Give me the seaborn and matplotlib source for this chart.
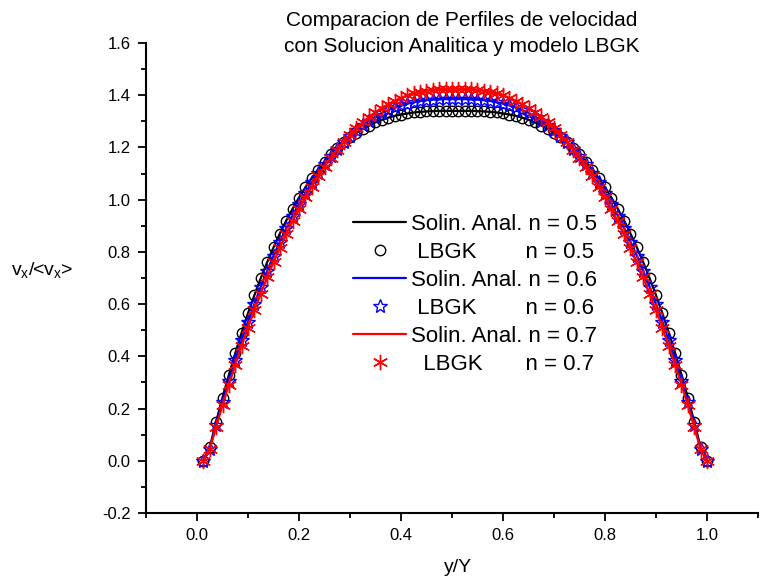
import matplotlib
matplotlib.use("Agg")
import matplotlib.pyplot as plt
import seaborn as sns
from matplotlib.ticker import MultipleLocator

# ---------------- data ----------------
y_pos = [0.0125, 0.025, 0.0375, 0.05, 0.0625, 0.075, 0.0875, 0.1, 0.1125, 0.125,
         0.1375, 0.15, 0.1625, 0.175, 0.1875, 0.2, 0.2125, 0.225, 0.2375, 0.25,
         0.2625, 0.275, 0.2875, 0.3, 0.3125, 0.325, 0.3375, 0.35, 0.3625, 0.375,
         0.3875, 0.4, 0.4125, 0.425, 0.4375, 0.45, 0.4625, 0.475, 0.4875, 0.5,
         0.5125, 0.525, 0.5375, 0.55, 0.5625, 0.575, 0.5875, 0.6, 0.6125, 0.625,
         0.6375, 0.65, 0.6625, 0.675, 0.6875, 0.7, 0.7125, 0.725, 0.7375, 0.75,
         0.7625, 0.775, 0.7875, 0.8, 0.8125, 0.825, 0.8375, 0.85, 0.8625, 0.875,
         0.8875, 0.9, 0.9125, 0.925, 0.9375, 0.95, 0.9625, 0.975, 0.9875, 1.0]

v_n05 = [0.0, 0.051, 0.149, 0.242, 0.329, 0.412, 0.491, 0.565, 0.634, 0.699,
         0.760, 0.817, 0.870, 0.920, 0.965, 1.008, 1.047, 1.083, 1.115, 1.145,
         1.173, 1.197, 1.219, 1.239, 1.256, 1.271, 1.284, 1.296, 1.306, 1.314,
         1.321, 1.326, 1.330, 1.334, 1.336, 1.338, 1.339, 1.340, 1.340, 1.340,
         1.340, 1.340, 1.340, 1.339, 1.338, 1.336, 1.334, 1.330, 1.326, 1.321,
         1.314, 1.306, 1.296, 1.284, 1.271, 1.256, 1.239, 1.219, 1.197, 1.173,
         1.145, 1.115, 1.083, 1.047, 1.008, 0.965, 0.920, 0.870, 0.817, 0.760,
         0.699, 0.634, 0.565, 0.491, 0.412, 0.329, 0.242, 0.149, 0.051, 0.0]

v_n06 = [0.0, 0.047, 0.138, 0.224, 0.307, 0.386, 0.462, 0.533, 0.601, 0.666,
         0.727, 0.785, 0.839, 0.891, 0.939, 0.984, 1.026, 1.066, 1.102, 1.136,
         1.167, 1.195, 1.222, 1.245, 1.267, 1.286, 1.303, 1.318, 1.332, 1.343,
         1.353, 1.361, 1.368, 1.373, 1.378, 1.381, 1.383, 1.384, 1.385, 1.385,
         1.385, 1.385, 1.384, 1.383, 1.381, 1.378, 1.373, 1.368, 1.361, 1.353,
         1.343, 1.332, 1.318, 1.303, 1.286, 1.267, 1.245, 1.222, 1.195, 1.167,
         1.136, 1.102, 1.066, 1.026, 0.984, 0.939, 0.891, 0.839, 0.785, 0.727,
         0.666, 0.601, 0.533, 0.462, 0.386, 0.307, 0.224, 0.138, 0.047, 0.0]

v_n07 = [0.0, 0.044, 0.129, 0.212, 0.291, 0.367, 0.440, 0.510, 0.577, 0.640,
         0.702, 0.760, 0.815, 0.868, 0.917, 0.964, 1.009, 1.050, 1.089, 1.126,
         1.160, 1.192, 1.221, 1.249, 1.273, 1.296, 1.317, 1.335, 1.352, 1.366,
         1.379, 1.390, 1.399, 1.407, 1.413, 1.417, 1.421, 1.423, 1.424, 1.425,
         1.425, 1.424, 1.423, 1.421, 1.417, 1.413, 1.407, 1.399, 1.390, 1.379,
         1.366, 1.352, 1.335, 1.317, 1.296, 1.273, 1.249, 1.221, 1.192, 1.160,
         1.126, 1.089, 1.050, 1.009, 0.964, 0.917, 0.868, 0.815, 0.760, 0.702,
         0.640, 0.577, 0.510, 0.440, 0.367, 0.291, 0.212, 0.129, 0.044, 0.0]

labels_line = ["Solin. Anal. n = 0.5", "Solin. Anal. n = 0.6", "Solin. Anal. n = 0.7"]
labels_lbgk = [" LBGK        n = 0.5", " LBGK        n = 0.6", "  LBGK       n = 0.7"]
x_ticks = [0.0, 0.2, 0.4, 0.6, 0.8, 1.0]
y_ticks = [-0.2, 0.0, 0.2, 0.4, 0.6, 0.8, 1.0, 1.2, 1.4, 1.6]

# ---------------- style ----------------
sns.set_style("ticks")
plt.rcParams["font.family"] = ["Liberation Sans", "DejaVu Sans"]
plt.rcParams["mathtext.fontset"] = "custom"
plt.rcParams["mathtext.rm"] = "Liberation Sans"
plt.rcParams["mathtext.it"] = "Liberation Sans"
plt.rcParams["text.color"] = "black"
plt.rcParams["axes.labelcolor"] = "black"
plt.rcParams["xtick.color"] = "black"
plt.rcParams["ytick.color"] = "black"

fig = plt.figure(figsize=(7.74, 5.86), dpi=100)
ax = fig.add_axes([146 / 774, 1 - 513 / 586, 612 / 774, 470 / 586])

series = [
    (v_n05, "black", "o", 7.5, labels_line[0], labels_lbgk[0]),
    (v_n06, "blue", "*", 10.5, labels_line[1], labels_lbgk[1]),
    (v_n07, "red", (6, 2, 0), 11.0, labels_line[2], labels_lbgk[2]),
]
for vals, col, mk, ms, lab_l, lab_m in series:
    sns.lineplot(x=y_pos, y=vals, color=col, lw=1.6, sort=False,
                 estimator=None, ax=ax, label=lab_l)
    sns.lineplot(x=y_pos, y=vals, color=col, linestyle="none", marker=mk,
                 markersize=ms, markerfacecolor="none", markeredgecolor=col,
                 markeredgewidth=1.0, sort=False, estimator=None, ax=ax,
                 label=lab_m)

ax.set_xlim(-0.1, 1.1)
ax.set_ylim(-0.2, 1.6)
ax.set_xticks(x_ticks)
ax.set_xticklabels([f"{t:.1f}" for t in x_ticks])
ax.set_yticks(y_ticks)
ax.set_yticklabels([f"{t:.1f}" for t in y_ticks])
ax.xaxis.set_minor_locator(MultipleLocator(0.1))
ax.yaxis.set_minor_locator(MultipleLocator(0.1))
ax.tick_params(which="major", direction="out", length=6, width=1.3,
               labelsize=12, pad=5, color="black", labelcolor="black")
ax.tick_params(which="minor", direction="out", length=3.5, width=1.3,
               color="black")
for side in ["top", "right"]:
    ax.spines[side].set_visible(False)
for side in ["left", "bottom"]:
    ax.spines[side].set_linewidth(1.5)
    ax.spines[side].set_color("black")

ax.set_xlabel("y/Y", fontsize=14, va="center", color="black")
ax.xaxis.set_label_coords((458 - 146) / 612, (513 - 568) / 470)
ax.set_ylabel(r"$\mathregular{v_x}$/<$\mathregular{v_x}$>", fontsize=14,
              rotation=0, ha="center", va="center", color="black")
ax.yaxis.set_label_coords((42 - 146) / 612, (513 - 270) / 470)

fig.text(462 / 774, 1 - 21 / 586, "Comparacion de Perfiles de velocidad",
         ha="center", va="center", fontsize=15, color="black")
fig.text(462 / 774, 1 - 46 / 586, "con Solucion Analitica y modelo LBGK",
         ha="center", va="center", fontsize=15, color="black")

handles, labels = ax.get_legend_handles_labels()
leg = ax.legend(handles, labels, loc="upper left",
                bbox_to_anchor=(342 / 774, 1 - 203 / 586),
                bbox_transform=fig.transFigure, frameon=False, fontsize=16,
                handlelength=2.4, handletextpad=0.22, labelspacing=0.31,
                borderpad=0.0, labelcolor="black")

fig.savefig("out.png", dpi=100)
